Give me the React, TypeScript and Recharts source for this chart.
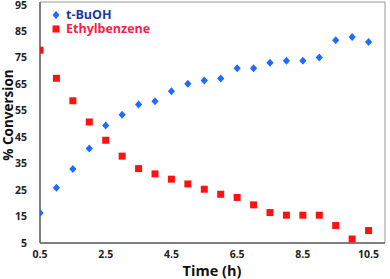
import React from "react";
import {
  ScatterChart,
  Scatter,
  XAxis,
  YAxis,
  ReferenceArea,
  Label,
} from "recharts";

const times = [0.5, 1, 1.5, 2, 2.5, 3, 3.5, 4, 4.5, 5, 5.5, 6, 6.5, 7, 7.5, 8, 8.5, 9, 9.5, 10, 10.5];
const tBuOH = [16.3, 25.9, 32.9, 40.7, 49.4, 53.4, 57.3, 58.5, 62.3, 65.1, 66.4, 67.1, 71.0, 71.0, 73.1, 73.8, 73.8, 75.0, 81.6, 82.8, 80.9];
const ethylbenzene = [77.8, 67.2, 58.7, 50.7, 43.8, 37.8, 33.1, 31.1, 29.1, 27.3, 25.3, 23.4, 22.2, 19.4, 16.5, 15.5, 15.5, 15.5, 11.6, 6.5, 9.7];
const xTicks = [0.5, 2.5, 4.5, 6.5, 8.5, 10.5];
const yTicks = [5, 15, 25, 35, 45, 55, 65, 75, 85, 95];

const blueData = times.map((t, i) => ({ t, v: tBuOH[i] }));
const redData = times.map((t, i) => ({ t, v: ethylbenzene[i] }));

const FONT = "'Open Sans', 'Noto Sans', sans-serif";
const BLUE = "#1f6bff";
const RED = "#ff1111";

const Diamond = (props: any) => {
  const { cx, cy } = props;
  return (
    <polygon
      points={`${cx},${cy - 4} ${cx + 3.6},${cy} ${cx},${cy + 4} ${cx - 3.6},${cy}`}
      fill={BLUE}
    />
  );
};

const Square = (props: any) => {
  const { cx, cy } = props;
  return <rect x={cx - 3.5} y={cy - 3.5} width={7} height={7} fill={RED} />;
};

// legend drawn as an overlay so it doesn't shrink the plot area
const LegendBox = () => (
  <div
    style={{
      position: "absolute",
      left: 51,
      top: 8,
      fontFamily: FONT,
      fontWeight: 700,
      fontSize: 12.5,
      lineHeight: "13px",
    }}
  >
    <div style={{ display: "flex", alignItems: "center", color: "#1b3a9e" }}>
      <svg width={12} height={10}>
        <polygon points="5,1 8.5,5 5,9 1.5,5" fill={BLUE} />
      </svg>
      <span style={{ marginLeft: 3 }}>t-BuOH</span>
    </div>
    <div style={{ display: "flex", alignItems: "center", color: "#ff1a4a", marginTop: 1 }}>
      <svg width={12} height={10}>
        <rect x={1.5} y={1.5} width={7} height={7} fill={RED} />
      </svg>
      <span style={{ marginLeft: 3 }}>Ethylbenzene</span>
    </div>
  </div>
);

export default function App() {
  const tickStyle = { fill: "#222", fontSize: 10.5, fontWeight: 700, fontFamily: FONT };
  const titleStyle = { fill: "#111", fontSize: 14.5, fontWeight: 700, fontFamily: FONT };
  return (
    <div style={{ position: "absolute", left: 0, top: 0, width: 390, height: 279, background: "#fff" }}>
      <ScatterChart width={390} height={279} margin={{ top: 2, right: 5, bottom: 14, left: 0 }}>
        <XAxis
          type="number"
          dataKey="t"
          domain={[0.5, 11]}
          ticks={xTicks}
          tick={tickStyle}
          tickLine={false}
          axisLine={{ stroke: "#666", strokeWidth: 1.5 }}
          height={22}
          allowDataOverflow
        >
          <Label
            content={() => (
              <text x={212} y={270} textAnchor="middle" dominantBaseline="central" style={titleStyle}>
                Time (h)
              </text>
            )}
          />
        </XAxis>
        <YAxis
          type="number"
          dataKey="v"
          domain={[5, 96]}
          ticks={yTicks}
          tick={tickStyle}
          tickLine={false}
          tickMargin={7}
          axisLine={{ stroke: "#666", strokeWidth: 1.5 }}
          width={40}
          allowDataOverflow
        >
          <Label
            content={() => (
              <text
                x={8}
                y={115}
                transform="rotate(-90 8 115)"
                textAnchor="middle"
                dominantBaseline="central"
                style={{ ...titleStyle, fontSize: 13.5 }}
              >
                % Conversion
              </text>
            )}
          />
        </YAxis>
        <ReferenceArea
          x1={0.5}
          x2={11}
          y1={5}
          y2={96}
          fill="none"
          stroke="#999"
          strokeWidth={1}
          ifOverflow="visible"
        />
        <Scatter name="t-BuOH" data={blueData} shape={Diamond} isAnimationActive={false} />
        <Scatter name="Ethylbenzene" data={redData} shape={Square} isAnimationActive={false} />
      </ScatterChart>
      <LegendBox />
    </div>
  );
}
